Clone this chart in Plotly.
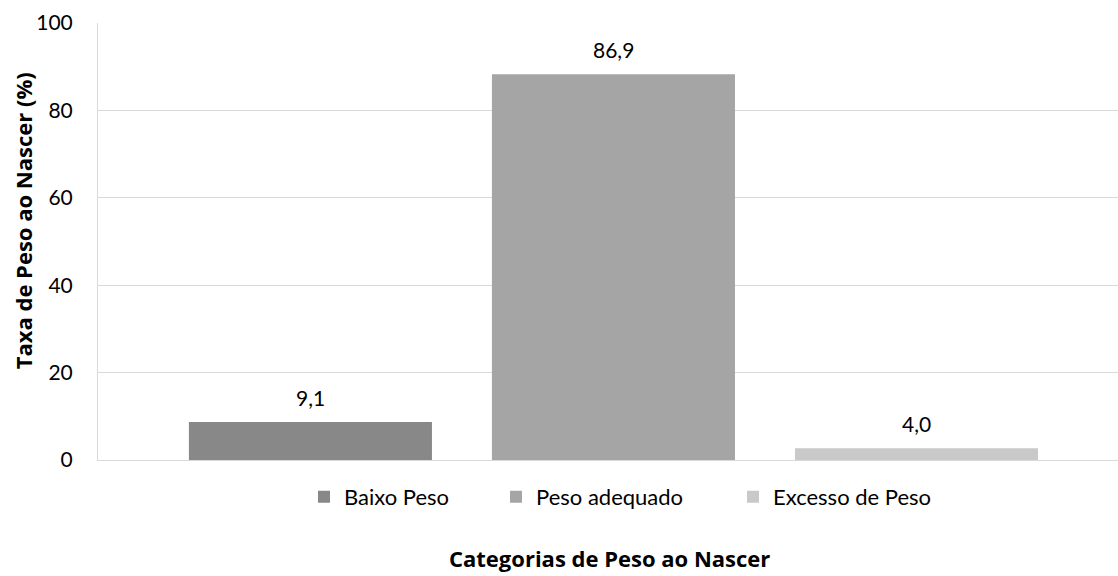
import plotly.graph_objects as go

categories = ["Baixo Peso", "Peso adequado", "Excesso de Peso"]
values = [8.7, 88.3, 2.7]
labels = ["9,1", "86,9", "4,0"]
colors = ["#888888", "#a5a5a5", "#c9c9c9"]
y_ticks = [0, 20, 40, 60, 80, 100]
y_title = "Taxa de Peso ao Nascer (%)"
x_title = "Categorias de Peso ao Nascer"

FONT = "Lato"
TFONT = "Open Sans"
L, T, B, W = 98, 22.5, 116, 1020
PH = 576 - T - B

def px_x(px):
    return (px - L) / W

def px_y(py):
    return (576 - B - py) / PH

legend_names = ["legend", "legend2", "legend3"]
legend_text_x = [345, 537, 774]

fig = go.Figure()
for c, v, col, lg in zip(categories, values, colors, legend_names):
    fig.add_trace(go.Bar(x=[c], y=[v], name=c, legend=lg,
                         marker=dict(color=col, line=dict(width=0))))

for c, v, t in zip(categories, values, labels):
    fig.add_annotation(x=c, y=v, text=t, showarrow=False, yanchor="bottom", yshift=10,
                       font=dict(family=FONT, size=21, color="#000000"))

fig.add_annotation(xref="paper", yref="paper", x=px_x(23), y=px_y(221), text="<b>" + y_title + "</b>",
                   textangle=-90, showarrow=False, xanchor="center", yanchor="middle",
                   font=dict(family=TFONT, size=22, color="#000000"))
fig.add_annotation(xref="paper", yref="paper", x=px_x(609), y=px_y(558), text="<b>" + x_title + "</b>",
                   showarrow=False, xanchor="center", yanchor="middle",
                   font=dict(family=TFONT, size=22, color="#000000"))

legend_common = dict(orientation="h", yanchor="middle", xanchor="left", y=px_y(497),
                     font=dict(family=FONT, size=22, color="#000000"), itemclick=False,
                     bgcolor="rgba(0,0,0,0)")
legend_layout = {}
for lg, tx in zip(legend_names, legend_text_x):
    legend_layout[lg] = dict(legend_common, x=px_x(tx - 41))

fig.update_layout(
    width=1118, height=576,
    margin=dict(l=L, r=0, t=T, b=B),
    paper_bgcolor="white", plot_bgcolor="white",
    barmode="overlay", bargap=0.198,
    font=dict(family=FONT, size=21, color="#000000"),
    showlegend=True,
    xaxis=dict(type="category", categoryorder="array", categoryarray=categories,
               range=[-0.701, 2.665], showticklabels=False, showgrid=False, zeroline=False,
               showline=True, linecolor="#d9d9d9", linewidth=1, ticks=""),
    yaxis=dict(range=[0, 100], tickvals=y_ticks, showgrid=True, gridcolor="#d9d9d9", gridwidth=1,
               zeroline=False, showline=True, linecolor="#d9d9d9", linewidth=1, ticks="",
               ticklabelstandoff=20, tickfont=dict(family=FONT, size=21, color="#000000")),
    **legend_layout,
)

fig.write_html("out.html")
